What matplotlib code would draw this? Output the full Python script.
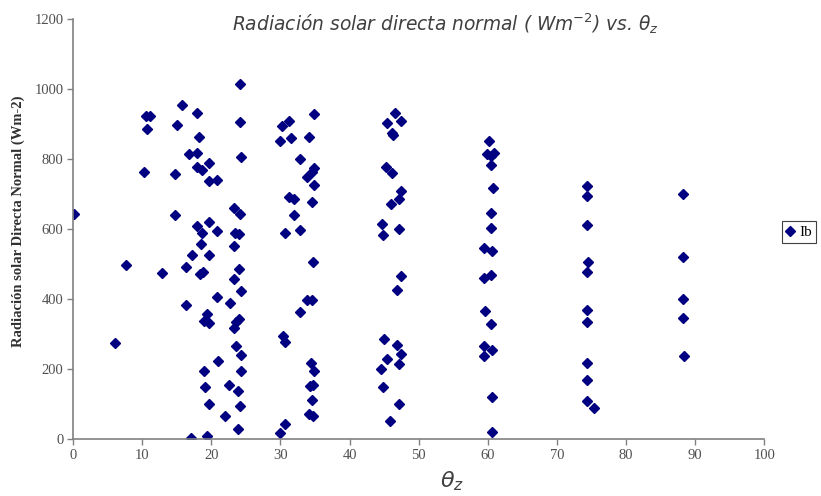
import numpy as np
import matplotlib
matplotlib.use('Agg')
from matplotlib import pyplot as plt

# zenith angle (deg) and direct normal irradiance (W/m2)
theta_z = [0.2, 6.1, 7.7, 10.3, 10.5, 11.1, 10.7, 12.9,
           15.8, 15.0, 14.8, 14.8, 16.4, 16.4, 16.8, 17.2, 17.1, 18.0, 18.2, 18.0,
           18.0, 18.6, 19.6, 19.7, 20.8, 18.0, 19.6, 18.6, 20.8, 18.5, 19.6, 18.3,
           18.8, 20.8, 19.4, 19.0, 19.7, 21.0, 19.0, 19.1, 19.6, 19.4, 22.0, 22.5, 22.7,
           24.2, 24.2, 24.3, 23.3, 24.2, 23.4, 24.0, 23.3, 24.0, 23.3, 24.3, 24.0,
           23.6, 23.3, 23.6, 24.3, 24.3, 23.8, 24.1, 23.9,
           34.8, 30.2, 31.2, 29.9, 31.5, 34.1, 32.8, 34.8, 34.5, 33.9, 34.8, 31.2,
           31.9, 34.6, 31.9, 30.6, 32.8, 34.7, 33.8, 34.5, 32.8, 30.4, 30.6, 34.4,
           34.8, 34.3, 34.7, 34.6, 34.2, 34.7, 30.7, 29.9,
           46.5, 45.4, 47.4, 46.1, 46.3, 45.2, 46.2, 47.4, 47.1, 46.0, 44.7, 47.1,
           44.9, 47.4, 46.8, 45.0, 46.9, 47.4, 45.4, 47.2, 44.6, 44.9, 47.1, 45.8,
           60.1, 59.9, 60.4, 60.9, 60.5, 60.7, 60.5, 60.4, 59.5, 60.6, 59.5, 60.5,
           59.6, 60.5, 59.5, 60.6, 59.5, 60.6, 60.6,
           74.3, 74.3, 74.3, 74.5, 74.3, 74.3, 74.3, 74.3, 74.3, 74.3, 75.4,
           88.2, 88.2, 88.2, 88.2, 88.4]
ib = [645, 275, 497, 765, 925, 925, 887, 475,
      955, 897, 757, 640, 492, 385, 815, 528, 3, 932, 864, 819,
      777, 771, 789, 739, 741, 610, 620, 590, 596, 557, 527, 473,
      478, 407, 357, 338, 333, 223, 196, 150, 100, 10, 67, 155, 390,
      1015, 908, 807, 661, 645, 590, 587, 553, 487, 459, 424, 343,
      336, 317, 267, 240, 196, 138, 95, 31,
      930, 895, 910, 853, 860, 865, 800, 774, 765, 751, 727, 692,
      687, 677, 641, 590, 598, 507, 398, 398, 365, 296, 278, 219,
      196, 152, 155, 113, 74, 67, 43, 19,
      932, 903, 910, 875, 869, 779, 762, 710, 688, 673, 615, 600,
      584, 467, 426, 288, 271, 243, 230, 216, 200, 150, 100, 52,
      853, 814, 811, 817, 783, 718, 647, 605, 546, 538, 460, 469,
      367, 330, 266, 255, 238, 122, 21,
      724, 696, 612, 508, 477, 369, 336, 219, 171, 110, 90,
      700, 522, 402, 348, 238]

fig = plt.figure(figsize=(8.21, 4.96), dpi=100)
ax = fig.add_axes([0.089, 0.114, 0.842, 0.847])

ax.plot(theta_z, ib, 'D', color='#000080', ms=4.6, mec='#000080', label='Ib')

ax.set_xlim(0, 100)
ax.set_ylim(0, 1200)
ax.set_xticks(np.arange(0, 101, 10))
ax.set_yticks(np.arange(0, 1201, 200))

for s in ['top', 'right']:
    ax.spines[s].set_visible(False)
for s in ['left', 'bottom']:
    ax.spines[s].set_color('#808080')
    ax.spines[s].set_linewidth(1.2)

ax.tick_params(direction='out', length=4, width=1, color='#808080',
               labelcolor='#505050', labelsize=10.5, pad=3)
for lab in ax.get_xticklabels() + ax.get_yticklabels():
    lab.set_family('Liberation Serif')

ax.set_ylabel('Radiación solar Directa Normal (Wm-2)', family='Liberation Serif',
              fontweight='bold', fontsize=10.5, color='#303030', labelpad=5)
ax.yaxis.set_label_coords(-0.07, 0.52)

fig.text(0.543, 0.953, r'Radiación solar directa normal ( Wm$^{-2}$) vs. $\theta_z$',
         ha='center', va='center', style='italic', fontsize=13.4,
         color='#404040', family='DejaVu Sans')
fig.text(0.551, 0.03, r'$\theta_z$', ha='center', va='center', fontsize=16,
         color='#404040')

leg = fig.legend(loc='center left', bbox_to_anchor=(0.952, 0.532),
                 prop={'family': 'Liberation Serif', 'size': 11},
                 handlelength=0.6, handletextpad=0.3, borderpad=0.25,
                 borderaxespad=0, fancybox=False, framealpha=1)
leg.get_frame().set_edgecolor('#404040')
leg.get_frame().set_linewidth(0.8)

plt.savefig('out.png', dpi=100)
